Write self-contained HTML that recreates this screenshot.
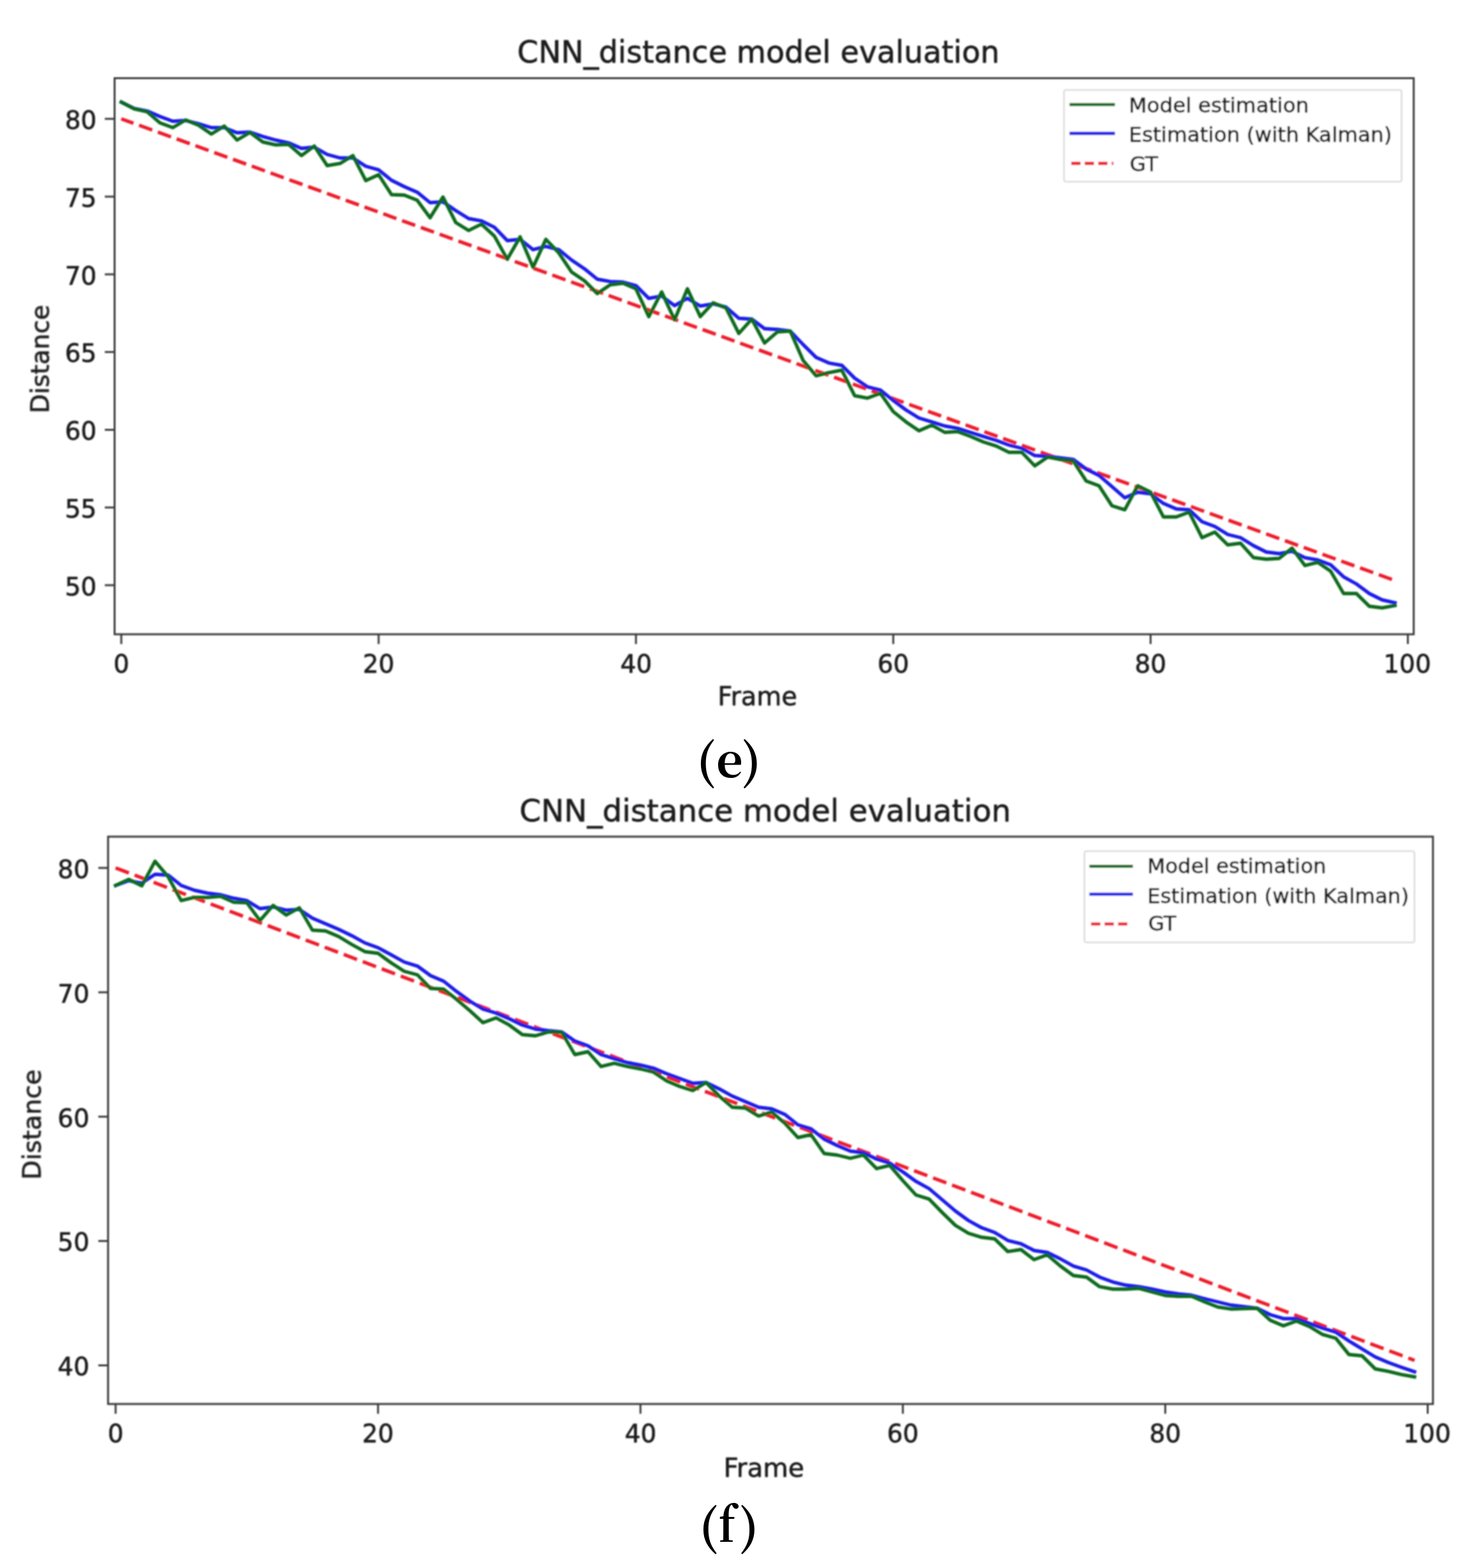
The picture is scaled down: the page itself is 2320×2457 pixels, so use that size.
<!DOCTYPE html><html><head><meta charset="utf-8"><title>CNN_distance model evaluation</title><style>html,body{margin:0;padding:0;background:#fff;width:2320px;height:2457px;overflow:hidden}svg{display:block} text{font-family:"DejaVu Sans","Liberation Sans",sans-serif;fill:#1e1e1e;stroke:#1e1e1e;stroke-width:0.75px;stroke-linejoin:round} .lab{font-family:"Noto Serif CJK SC","Liberation Serif",serif;font-weight:bold;fill:#000;stroke:none}</style></head><body>
<svg width="2320" height="2457" viewBox="0 0 2320 2457">
<rect width="2320" height="2457" fill="#fff"/>
<filter id="soft" filterUnits="userSpaceOnUse" x="0" y="0" width="2320" height="2457"><feGaussianBlur stdDeviation="0.9"/></filter>
<g filter="url(#soft)">
<clipPath id="c1"><rect x="179.5" y="122.5" width="2035.1" height="871.4"/></clipPath>
<g clip-path="url(#c1)" fill="none" stroke-linejoin="round" stroke-linecap="square">
<line x1="190.0" y1="186.2" x2="2185.3" y2="909.7" stroke="#ee1c2a" stroke-width="5.4" stroke-dasharray="21.85 9.45" stroke-dashoffset="1.64" stroke-linecap="butt"/>
<polyline points="190.0,160.0 210.2,170.0 230.3,173.8 250.5,182.5 270.7,190.0 290.8,188.8 311.0,193.8 331.1,200.0 351.3,200.0 371.4,208.0 391.6,207.0 411.7,213.8 431.9,219.5 452.0,223.8 472.2,232.5 492.3,230.5 512.5,242.0 532.7,247.5 552.8,247.5 573.0,260.5 593.1,266.2 613.3,282.5 633.4,292.5 653.6,301.2 673.7,317.5 693.9,316.2 714.0,330.0 734.2,342.5 754.3,346.2 774.5,356.2 794.7,377.0 814.8,375.0 835.0,391.2 855.1,386.2 875.3,391.2 895.4,407.5 915.6,421.2 935.7,437.5 955.9,441.2 976.0,442.0 996.2,447.5 1016.3,467.5 1036.5,463.8 1056.7,478.8 1076.8,467.5 1097.0,479.5 1117.1,476.2 1137.3,481.2 1157.4,498.8 1177.6,500.0 1197.7,515.0 1217.9,516.2 1238.0,518.8 1258.2,540.0 1278.4,560.0 1298.5,568.8 1318.7,572.5 1338.8,592.5 1359.0,606.2 1379.1,611.2 1399.3,627.5 1419.4,642.5 1439.6,655.0 1459.7,661.2 1479.9,667.5 1500.0,671.2 1520.2,677.5 1540.4,683.8 1560.5,690.0 1580.7,697.5 1600.8,702.5 1621.0,713.8 1641.1,715.0 1661.3,717.5 1681.4,720.0 1701.6,735.0 1721.7,745.0 1741.9,762.5 1762.0,780.0 1782.2,771.2 1802.4,773.8 1822.5,788.8 1842.7,797.5 1862.8,798.8 1883.0,817.5 1903.1,825.0 1923.3,837.5 1943.4,842.5 1963.6,855.0 1983.7,865.0 2003.9,867.5 2024.0,863.8 2044.2,873.8 2064.4,877.5 2084.5,885.0 2104.7,903.8 2124.8,915.0 2145.0,930.0 2165.1,940.0 2185.3,944.5" stroke="#1a1ae8" stroke-width="5.4"/>
<polyline points="190.0,160.0 210.2,170.5 230.3,175.0 250.5,192.5 270.7,200.0 290.8,188.0 311.0,196.2 331.1,210.0 351.3,197.5 371.4,219.5 391.6,207.5 411.7,222.5 431.9,227.0 452.0,226.2 472.2,243.8 492.3,228.8 512.5,259.5 532.7,256.2 552.8,243.8 573.0,283.0 593.1,273.8 613.3,305.0 633.4,305.8 653.6,313.8 673.7,341.2 693.9,308.8 714.0,348.8 734.2,361.2 754.3,351.2 774.5,370.0 794.7,406.2 814.8,371.2 835.0,418.8 855.1,375.0 875.3,396.2 895.4,426.2 915.6,440.0 935.7,460.0 955.9,446.2 976.0,443.8 996.2,452.5 1016.3,496.2 1036.5,457.5 1056.7,501.2 1076.8,452.5 1097.0,496.2 1117.1,474.5 1137.3,482.5 1157.4,522.5 1177.6,500.0 1197.7,537.5 1217.9,520.0 1238.0,518.8 1258.2,565.0 1278.4,588.8 1298.5,583.8 1318.7,580.0 1338.8,620.0 1359.0,623.8 1379.1,616.2 1399.3,645.0 1419.4,661.2 1439.6,675.0 1459.7,666.2 1479.9,677.5 1500.0,676.2 1520.2,683.8 1540.4,692.5 1560.5,698.8 1580.7,708.8 1600.8,708.8 1621.0,730.0 1641.1,716.2 1661.3,720.0 1681.4,722.5 1701.6,753.8 1721.7,761.2 1741.9,792.5 1762.0,798.8 1782.2,761.2 1802.4,771.2 1822.5,810.0 1842.7,810.0 1862.8,802.5 1883.0,842.5 1903.1,833.8 1923.3,853.8 1943.4,851.2 1963.6,873.8 1983.7,876.2 2003.9,875.0 2024.0,858.8 2044.2,886.2 2064.4,881.2 2084.5,895.0 2104.7,930.0 2124.8,930.0 2145.0,950.0 2165.1,952.5 2185.3,948.8" stroke="#116a1c" stroke-width="5.4"/>
</g>
<rect x="179.5" y="122.5" width="2035.1" height="871.4" fill="none" stroke="#3a3a3a" stroke-width="3"/>
<line x1="190.0" y1="993.9" x2="190.0" y2="1009.1999999999999" stroke="#3a3a3a" stroke-width="3"/>
<text x="177.7" y="1053.5" font-size="39">0</text>
<line x1="593.1" y1="993.9" x2="593.1" y2="1009.1999999999999" stroke="#3a3a3a" stroke-width="3"/>
<text x="568.2" y="1053.5" font-size="39">20</text>
<line x1="996.2" y1="993.9" x2="996.2" y2="1009.1999999999999" stroke="#3a3a3a" stroke-width="3"/>
<text x="971.7" y="1053.5" font-size="39">40</text>
<line x1="1399.3" y1="993.9" x2="1399.3" y2="1009.1999999999999" stroke="#3a3a3a" stroke-width="3"/>
<text x="1374.4" y="1053.5" font-size="39">60</text>
<line x1="1802.4" y1="993.9" x2="1802.4" y2="1009.1999999999999" stroke="#3a3a3a" stroke-width="3"/>
<text x="1777.5" y="1053.5" font-size="39">80</text>
<line x1="2205.4" y1="993.9" x2="2205.4" y2="1009.1999999999999" stroke="#3a3a3a" stroke-width="3"/>
<text x="2167.3" y="1053.5" font-size="39">100</text>
<line x1="164.2" y1="917.0" x2="179.5" y2="917.0" stroke="#3a3a3a" stroke-width="3"/>
<text x="151.3" y="932.8" font-size="39" text-anchor="end">50</text>
<line x1="164.2" y1="795.2" x2="179.5" y2="795.2" stroke="#3a3a3a" stroke-width="3"/>
<text x="151.3" y="811.0" font-size="39" text-anchor="end">55</text>
<line x1="164.2" y1="673.5" x2="179.5" y2="673.5" stroke="#3a3a3a" stroke-width="3"/>
<text x="151.3" y="689.2" font-size="39" text-anchor="end">60</text>
<line x1="164.2" y1="551.6" x2="179.5" y2="551.6" stroke="#3a3a3a" stroke-width="3"/>
<text x="151.3" y="567.4" font-size="39" text-anchor="end">65</text>
<line x1="164.2" y1="429.9" x2="179.5" y2="429.9" stroke="#3a3a3a" stroke-width="3"/>
<text x="151.3" y="445.7" font-size="39" text-anchor="end">70</text>
<line x1="164.2" y1="308.1" x2="179.5" y2="308.1" stroke="#3a3a3a" stroke-width="3"/>
<text x="151.3" y="323.9" font-size="39" text-anchor="end">75</text>
<line x1="164.2" y1="186.2" x2="179.5" y2="186.2" stroke="#3a3a3a" stroke-width="3"/>
<text x="151.3" y="202.1" font-size="39" text-anchor="end">80</text>
<text x="810.3" y="97.5" font-size="47.4">CNN_distance model evaluation</text>
<text x="1124.3" y="1105" font-size="40">Frame</text>
<text transform="translate(76.3,647.5) rotate(-90)" font-size="38.9">Distance</text>
<rect x="1666.8" y="141" width="528.8" height="143.8" rx="3" fill="#ffffff" fill-opacity="0.8" stroke="#dcdcdc" stroke-width="2.6"/>
<line x1="1677.8" y1="163.9" x2="1744.2" y2="163.9" stroke="#116a1c" stroke-width="4.8" stroke-linecap="square"/>
<line x1="1677.8" y1="209" x2="1744.2" y2="209" stroke="#1a1ae8" stroke-width="4.8" stroke-linecap="square"/>
<line x1="1678.0" y1="256" x2="1744.2" y2="256" stroke="#ee1c2a" stroke-width="4.8" stroke-dasharray="14.6 6.6"/>
<text x="1768.3" y="175.6" font-size="32.7">Model estimation</text>
<text x="1768.3" y="222" font-size="32.7">Estimation (with Kalman)</text>
<text x="1769.8" y="267.8" font-size="32.7">GT</text>
<clipPath id="c2"><rect x="169.3" y="1311" width="2075.45" height="889"/></clipPath>
<g clip-path="url(#c2)" fill="none" stroke-linejoin="round" stroke-linecap="square">
<line x1="181.1" y1="1360.0" x2="2215.9" y2="2131.7" stroke="#ee1c2a" stroke-width="5.4" stroke-dasharray="22.23 9.62" stroke-dashoffset="0" stroke-linecap="butt"/>
<polyline points="181.1,1387.5 201.7,1380.0 222.2,1383.8 242.8,1370.0 263.3,1371.2 283.9,1387.5 304.5,1395.0 325.0,1399.5 345.6,1402.0 366.1,1407.5 386.7,1411.2 407.2,1423.8 427.8,1421.2 448.3,1426.2 468.9,1425.0 489.4,1438.8 510.0,1447.5 530.5,1456.2 551.1,1466.2 571.6,1477.5 592.2,1485.0 612.8,1496.2 633.3,1507.5 653.9,1513.8 674.4,1528.8 695.0,1537.5 715.5,1553.8 736.1,1568.8 756.6,1581.2 777.2,1587.5 797.7,1596.2 818.3,1606.2 838.8,1612.5 859.4,1615.0 879.9,1617.0 900.5,1631.2 921.1,1638.8 941.6,1652.5 962.2,1658.8 982.7,1665.0 1003.3,1668.8 1023.8,1673.8 1044.4,1682.5 1064.9,1690.0 1085.5,1697.5 1106.0,1696.2 1126.6,1706.2 1147.1,1717.5 1167.7,1726.2 1188.2,1735.0 1208.8,1737.5 1229.4,1746.2 1249.9,1762.5 1270.5,1768.8 1291.0,1785.0 1311.6,1795.0 1332.1,1803.8 1352.7,1806.2 1373.2,1816.2 1393.8,1822.5 1414.3,1836.2 1434.9,1851.2 1455.4,1862.5 1476.0,1880.0 1496.5,1897.5 1517.1,1912.5 1537.7,1923.8 1558.2,1931.2 1578.8,1943.8 1599.3,1948.8 1619.9,1959.5 1640.4,1962.5 1661.0,1972.5 1681.5,1983.8 1702.1,1990.0 1722.6,2001.2 1743.2,2008.8 1763.7,2013.8 1784.3,2016.2 1804.8,2020.0 1825.4,2024.5 1846.0,2027.5 1866.5,2029.5 1887.1,2035.0 1907.6,2040.0 1928.2,2045.0 1948.7,2047.5 1969.3,2050.0 1989.8,2060.0 2010.4,2066.2 2030.9,2066.2 2051.5,2073.8 2072.0,2081.2 2092.6,2087.5 2113.1,2101.2 2133.7,2113.8 2154.3,2126.2 2174.8,2135.0 2195.4,2142.5 2215.9,2149.5" stroke="#1a1ae8" stroke-width="5.4"/>
<polyline points="181.1,1387.5 201.7,1378.0 222.2,1388.0 242.8,1349.5 263.3,1373.8 283.9,1411.2 304.5,1406.2 325.0,1406.2 345.6,1404.5 366.1,1413.8 386.7,1414.5 407.2,1442.5 427.8,1418.8 448.3,1433.8 468.9,1422.5 489.4,1457.5 510.0,1458.8 530.5,1467.5 551.1,1480.0 571.6,1491.2 592.2,1493.8 612.8,1508.8 633.3,1522.0 653.9,1527.5 674.4,1548.8 695.0,1550.0 715.5,1566.2 736.1,1583.8 756.6,1602.5 777.2,1595.0 797.7,1606.2 818.3,1621.2 838.8,1623.0 859.4,1617.0 879.9,1617.5 900.5,1652.5 921.1,1648.0 941.6,1671.2 962.2,1666.2 982.7,1671.2 1003.3,1675.0 1023.8,1680.0 1044.4,1693.8 1064.9,1702.5 1085.5,1708.8 1106.0,1696.2 1126.6,1717.5 1147.1,1735.0 1167.7,1736.2 1188.2,1748.8 1208.8,1742.5 1229.4,1760.0 1249.9,1782.5 1270.5,1778.0 1291.0,1807.5 1311.6,1810.0 1332.1,1815.0 1352.7,1810.0 1373.2,1831.2 1393.8,1826.2 1414.3,1850.0 1434.9,1872.5 1455.4,1878.8 1476.0,1900.0 1496.5,1920.0 1517.1,1932.5 1537.7,1938.8 1558.2,1941.2 1578.8,1961.2 1599.3,1958.0 1619.9,1973.8 1640.4,1966.2 1661.0,1983.8 1681.5,1998.8 1702.1,2001.2 1722.6,2016.2 1743.2,2020.0 1763.7,2020.0 1784.3,2018.8 1804.8,2024.5 1825.4,2030.0 1846.0,2031.2 1866.5,2031.2 1887.1,2040.0 1907.6,2048.0 1928.2,2051.2 1948.7,2050.5 1969.3,2050.0 1989.8,2068.8 2010.4,2077.5 2030.9,2070.0 2051.5,2078.8 2072.0,2091.2 2092.6,2097.0 2113.1,2122.5 2133.7,2124.5 2154.3,2145.0 2174.8,2148.8 2195.4,2153.8 2215.9,2157.5" stroke="#116a1c" stroke-width="5.4"/>
</g>
<rect x="169.3" y="1311" width="2075.45" height="889" fill="none" stroke="#3a3a3a" stroke-width="3"/>
<line x1="181.1" y1="2200" x2="181.1" y2="2215.3" stroke="#3a3a3a" stroke-width="3"/>
<text x="168.7" y="2259.5" font-size="39">0</text>
<line x1="592.2" y1="2200" x2="592.2" y2="2215.3" stroke="#3a3a3a" stroke-width="3"/>
<text x="567.2" y="2259.5" font-size="39">20</text>
<line x1="1003.3" y1="2200" x2="1003.3" y2="2215.3" stroke="#3a3a3a" stroke-width="3"/>
<text x="978.8" y="2259.5" font-size="39">40</text>
<line x1="1414.3" y1="2200" x2="1414.3" y2="2215.3" stroke="#3a3a3a" stroke-width="3"/>
<text x="1389.5" y="2259.5" font-size="39">60</text>
<line x1="1825.4" y1="2200" x2="1825.4" y2="2215.3" stroke="#3a3a3a" stroke-width="3"/>
<text x="1800.5" y="2259.5" font-size="39">80</text>
<line x1="2236.5" y1="2200" x2="2236.5" y2="2215.3" stroke="#3a3a3a" stroke-width="3"/>
<text x="2198.3" y="2259.5" font-size="39">100</text>
<line x1="154.0" y1="2139.5" x2="169.3" y2="2139.5" stroke="#3a3a3a" stroke-width="3"/>
<text x="140.0" y="2155.3" font-size="39" text-anchor="end">40</text>
<line x1="154.0" y1="1944.6" x2="169.3" y2="1944.6" stroke="#3a3a3a" stroke-width="3"/>
<text x="140.0" y="1960.4" font-size="39" text-anchor="end">50</text>
<line x1="154.0" y1="1749.8" x2="169.3" y2="1749.8" stroke="#3a3a3a" stroke-width="3"/>
<text x="140.0" y="1765.5" font-size="39" text-anchor="end">60</text>
<line x1="154.0" y1="1554.9" x2="169.3" y2="1554.9" stroke="#3a3a3a" stroke-width="3"/>
<text x="140.0" y="1570.7" font-size="39" text-anchor="end">70</text>
<line x1="154.0" y1="1360.0" x2="169.3" y2="1360.0" stroke="#3a3a3a" stroke-width="3"/>
<text x="140.0" y="1375.8" font-size="39" text-anchor="end">80</text>
<text x="813.7" y="1286.9" font-size="48.3">CNN_distance model evaluation</text>
<text x="1133.4" y="2313.5" font-size="40.6">Frame</text>
<text transform="translate(63.6,1848.5) rotate(-90)" font-size="39.5">Distance</text>
<rect x="1698.8" y="1333.8" width="517.0000000000002" height="142.9000000000001" rx="3" fill="#ffffff" fill-opacity="0.8" stroke="#dcdcdc" stroke-width="2.6"/>
<line x1="1708.9" y1="1357.3" x2="1772.3" y2="1357.3" stroke="#116a1c" stroke-width="4.8" stroke-linecap="square"/>
<line x1="1708.9" y1="1401.2" x2="1772.3" y2="1401.2" stroke="#1a1ae8" stroke-width="4.8" stroke-linecap="square"/>
<line x1="1709.1000000000001" y1="1447.8" x2="1772.3" y2="1447.8" stroke="#ee1c2a" stroke-width="4.8" stroke-dasharray="14.6 6.6"/>
<text x="1797.2" y="1367.8" font-size="32.5">Model estimation</text>
<text x="1797.2" y="1414.9" font-size="32.5">Estimation (with Kalman)</text>
<text x="1798.7" y="1457.9" font-size="32.5">GT</text>
</g>
<text class="lab" font-size="75.6"><tspan x="1091.2" y="1220.4">(</tspan><tspan x="1121.9" y="1217.7" font-size="73">e</tspan><tspan x="1162.1" y="1220.4">)</tspan></text>
<text class="lab" font-size="75.6"><tspan x="1095.2" y="2419.6">(</tspan><tspan x="1126.1" y="2416" font-size="73.6" textLength="25.5" lengthAdjust="spacingAndGlyphs">f</tspan><tspan x="1158.2" y="2419.6">)</tspan></text>
</svg></body></html>
